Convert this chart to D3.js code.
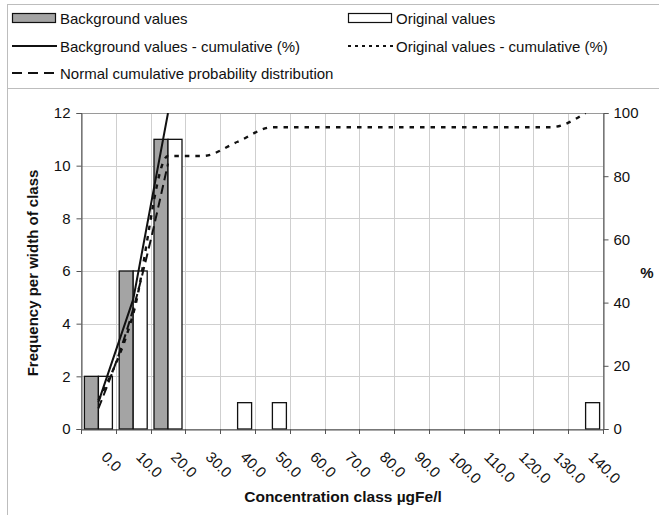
<!DOCTYPE html>
<html><head><meta charset="utf-8">
<script src="https://cdn.jsdelivr.net/npm/d3@7"></script>
<style>
html,body{margin:0;padding:0;background:#fff;}
svg{display:block;font-family:"Liberation Sans",Arial,sans-serif;}
</style></head>
<body><svg id="c" width="659" height="515"></svg>
<script>
const categories = ["0.0","10.0","20.0","30.0","40.0","50.0","60.0","70.0","80.0","90.0","100.0","110.0","120.0","130.0","140.0"];
const backgroundValues = [2,6,11,0,0,0,0,0,0,0,0,0,0,0,0];
const originalValues   = [2,6,11,0,1,1,0,0,0,0,0,0,0,0,1];
const backgroundCum = [8.5,41,100];
const originalCum   = [9.1,36.4,86.4,86.4,90.9,95.5,95.5,95.5,95.5,95.5,95.5,95.5,95.5,95.5,100];
const normalCum     = [6.5,38,84];
const leftTicks  = [0,2,4,6,8,10,12];
const rightTicks = [0,20,40,60,80,100];

const svg = d3.select("#c");
const L=81, R=603, T=113, B=429;
const FS = 15;

// frame
svg.append("rect").attr("x",7.5).attr("y",4.5).attr("width",700).attr("height",600)
  .attr("fill","none").attr("stroke","#bdbdbd").attr("stroke-width",1);
svg.append("line").attr("x1",7.5).attr("x2",659).attr("y1",88.5).attr("y2",88.5)
  .attr("stroke","#bdbdbd");

const x = d3.scaleBand().domain(categories).range([L,R]).padding(0);
const xs = d3.scaleBand().domain(["bg","orig"]).range([0,x.bandwidth()]).paddingInner(0).paddingOuter(0.243);
const y = d3.scaleLinear().domain([0,12]).range([B,T]);
const y2 = d3.scaleLinear().domain([0,100]).range([B,T]);

// grid
const g = svg.append("g");
g.selectAll(".hg").data(leftTicks).join("line")
  .attr("x1",L).attr("x2",R).attr("y1",d=>Math.round(y(d))+0.5).attr("y2",d=>Math.round(y(d))+0.5)
  .attr("stroke","#cfcfcf");
g.selectAll(".vg").data(categories.slice(1)).join("line")
  .attr("x1",d=>Math.round(x(d))+0.5).attr("x2",d=>Math.round(x(d))+0.5).attr("y1",T).attr("y2",B)
  .attr("stroke","#cfcfcf");
svg.append("rect").attr("x",L+0.5).attr("y",T+0.5).attr("width",R-L).attr("height",B-T)
  .attr("fill","none").attr("stroke","#9a9a9a");

// bars
const bars = svg.append("g");
categories.forEach((c,i)=>{
  bars.append("rect").attr("x",x(c)+xs("bg")).attr("width",xs.bandwidth())
    .attr("y",y(backgroundValues[i])).attr("height",B-y(backgroundValues[i]))
    .attr("fill","#a4a4a4").attr("stroke","#111").attr("stroke-width",1.3)
    .attr("display",backgroundValues[i]>0?null:"none");
  bars.append("rect").attr("x",x(c)+xs("orig")).attr("width",xs.bandwidth())
    .attr("y",y(originalValues[i])).attr("height",B-y(originalValues[i]))
    .attr("fill","#fff").attr("stroke","#111").attr("stroke-width",1.3)
    .attr("display",originalValues[i]>0?null:"none");
});

// axes
const axL = d3.axisLeft(y).tickValues(leftTicks).tickSize(5).tickPadding(6);
const gl = svg.append("g").attr("transform",`translate(${L+0.5},0)`).call(axL);
const axR = d3.axisRight(y2).tickValues(rightTicks).tickSize(5).tickPadding(5);
const gr = svg.append("g").attr("transform",`translate(${R+0.5},0)`).call(axR);
const axB = d3.axisBottom(x).tickSize(0).tickFormat("");
const gb = svg.append("g").attr("transform",`translate(0,${B+0.5})`).call(axB);
[gl,gr,gb].forEach(a=>{
  a.select(".domain").attr("stroke","#555");
  a.selectAll(".tick line").attr("stroke","#555");
  a.selectAll("text").attr("font-size",FS).attr("fill","#111").attr("font-family","Liberation Sans, Arial, sans-serif");
});
// category boundary ticks
svg.append("g").selectAll("line").data(categories.concat(["end"])).join("line")
  .attr("x1",(d,i)=>Math.round(L+i*x.step())+0.5).attr("x2",(d,i)=>Math.round(L+i*x.step())+0.5)
  .attr("y1",B).attr("y2",B+5).attr("stroke","#555");
// rotated category labels
svg.append("g").selectAll("text").data(categories).join("text")
  .attr("transform",d=>`translate(${x(d)+x.bandwidth()/2+2},458) rotate(45)`)
  .attr("font-size",FS).attr("fill","#111").text(d=>d);

// lines
const cx = i => x(categories[i]) + x.bandwidth()/2;
const lineGen = d3.line().x((d,i)=>cx(i)).y(d=>y2(d)).curve(d3.curveMonotoneX);
svg.append("clipPath").attr("id","pc").append("rect")
  .attr("x",L).attr("y",T).attr("width",R-L).attr("height",B-T);
const lg = svg.append("g").attr("clip-path","url(#pc)");
lg.append("path").attr("d",lineGen(normalCum)).attr("fill","none").attr("stroke","#111")
  .attr("stroke-width",2).attr("stroke-dasharray","9,5");
lg.append("path").attr("d",lineGen(originalCum)).attr("fill","none").attr("stroke","#111")
  .attr("stroke-width",2.4).attr("stroke-dasharray","4.5,6");
lg.append("path").attr("d",d3.line().x((d,i)=>cx(i)).y(d=>y2(d))(backgroundCum)).attr("fill","none").attr("stroke","#111")
  .attr("stroke-width",2);

// titles
svg.append("text").attr("x",343).attr("y",502).attr("text-anchor","middle")
  .attr("font-size",15.5).attr("font-weight","bold").attr("fill","#111").text("Concentration class µgFe/l");
svg.append("text").attr("transform","translate(38,273) rotate(-90)").attr("text-anchor","middle")
  .attr("font-size",15).attr("font-weight","bold").attr("fill","#111").text("Frequency per width of class");
svg.append("text").attr("x",647).attr("y",278).attr("text-anchor","middle")
  .attr("font-size",15).attr("font-weight","bold").attr("fill","#111").text("%");

// legend
const leg = svg.append("g");
const legItems = [
  {t:"Background values", x:12, y:18, type:"rect", fill:"#a4a4a4"},
  {t:"Original values", x:348, y:18, type:"rect", fill:"#fff"},
  {t:"Background values - cumulative (%)", x:12, y:46, type:"line", dash:null},
  {t:"Original values - cumulative (%)", x:348, y:46, type:"line", dash:"3,4"},
  {t:"Normal cumulative probability distribution", x:12, y:73, type:"line", dash:"10,6"}
];
legItems.forEach(it=>{
  if(it.type==="rect"){
    leg.append("rect").attr("x",it.x+0.5).attr("y",it.y-4.5).attr("width",43).attr("height",9)
      .attr("fill",it.fill).attr("stroke","#111").attr("stroke-width",1.2);
  } else {
    leg.append("line").attr("x1",it.x).attr("x2",it.x+45).attr("y1",it.y).attr("y2",it.y)
      .attr("stroke","#111").attr("stroke-width",2).attr("stroke-dasharray",it.dash);
  }
  leg.append("text").attr("x",it.x+48).attr("y",it.y+5.5).attr("font-size",FS).attr("fill","#111").text(it.t);
});
</script></body></html>
